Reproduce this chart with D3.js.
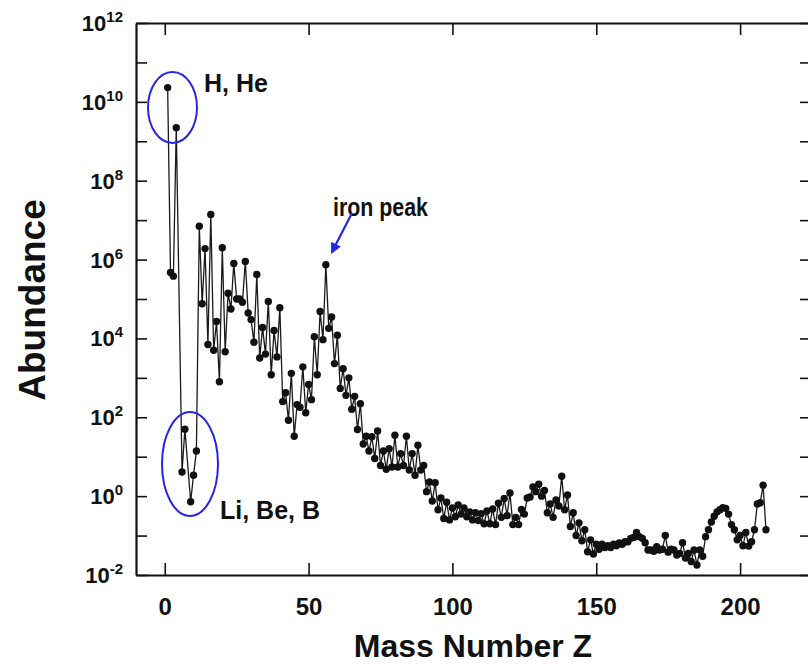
<!DOCTYPE html>
<html>
<head>
<meta charset="utf-8">
<script src="https://cdn.jsdelivr.net/npm/d3@7"></script>
<style>
  body { margin: 0; background: #fff; }
  svg text { font-family: "Liberation Sans", Arial, sans-serif; font-weight: bold; fill: #111; }
</style>
</head>
<body>
<svg id="chart" width="808" height="664"></svg>
<script>
// mass numbers (A = 5 and 8 have no stable nuclei)
const massNumber = [
  1, 2, 3, 4, 6, 7, 9, 10, 11, 12, 13, 14, 15, 16, 17, 18, 19, 20,
  21, 22, 23, 24, 25, 26, 27, 28, 29, 30, 31, 32, 33, 34, 35, 36, 37, 38, 39, 40,
  41, 42, 43, 44, 45, 46, 47, 48, 49, 50, 51, 52, 53, 54, 55, 56, 57, 58, 59, 60,
  61, 62, 63, 64, 65, 66, 67, 68, 69, 70, 71, 72, 73, 74, 75, 76, 77, 78, 79, 80,
  81, 82, 83, 84, 85, 86, 87, 88, 89, 90, 91, 92, 93, 94, 95, 96, 97, 98, 99, 100,
  101, 102, 103, 104, 105, 106, 107, 108, 109, 110, 111, 112, 113, 114, 115, 116, 117, 118, 119, 120,
  121, 122, 123, 124, 125, 126, 127, 128, 129, 130, 131, 132, 133, 134, 135, 136, 137, 138, 139, 140,
  141, 142, 143, 144, 145, 146, 147, 148, 149, 150, 151, 152, 153, 154, 155, 156, 157, 158, 159, 160,
  161, 162, 163, 164, 165, 166, 167, 168, 169, 170, 171, 172, 173, 174, 175, 176, 177, 178, 179, 180,
  181, 182, 183, 184, 185, 186, 187, 188, 189, 190, 191, 192, 193, 194, 195, 196, 197, 198, 199, 200,
  201, 202, 203, 204, 205, 206, 207, 208, 209
];

const abundance = [
  2.3e10, 4.7e5, 3.8e5, 2.2e9, 4.1, 50, 0.72, 3.4, 14, 7e6, 7.6e4, 1.9e6, 7e3, 1.4e7, 5e3, 2.7e4, 800, 2e6,
  4.6e3, 1.4e5, 5.6e4, 8e5, 1e5, 1e5, 8.3e4, 9e5, 4.4e4, 3e4, 8e3, 4.2e5, 3.2e3, 1.9e4, 4e3, 8.7e4, 1.2e3, 1.6e4, 3.4e3, 6e4,
  250, 420, 84, 1.3e3, 33, 210, 180, 1.9e3, 130, 680, 280, 1.1e4, 1.2e3, 4.8e4, 9.3e3, 7.4e5, 1.8e4, 3.5e4, 2.3e3, 1.2e4,
  540, 1.7e3, 360, 1e3, 160, 340, 49, 220, 21, 33, 14, 32, 9, 45, 6, 14, 4.8, 16, 5.5, 35,
  5.5, 12, 6, 33, 4.6, 12, 3.4, 19.5, 4.6, 6, 1.3, 2.3, 0.75, 2.2, 0.45, 0.9, 0.27, 0.7, 0.25, 0.5,
  0.3, 0.6, 0.35, 0.5, 0.3, 0.4, 0.25, 0.38, 0.24, 0.36, 0.2, 0.42, 0.2, 0.47, 0.19, 0.66, 0.29, 0.87, 0.32, 1.2,
  0.19, 0.29, 0.19, 0.46, 0.35, 0.9, 0.95, 1.7, 1.3, 2.0, 1.0, 1.4, 0.38, 0.63, 0.29, 0.8, 0.56, 3.2, 0.45, 1.07,
  0.17, 0.38, 0.1, 0.21, 0.074, 0.14, 0.039, 0.078, 0.034, 0.06, 0.045, 0.06, 0.05, 0.055, 0.05, 0.06, 0.055, 0.065, 0.06, 0.07,
  0.07, 0.085, 0.09, 0.12, 0.094, 0.085, 0.066, 0.043, 0.043, 0.04, 0.052, 0.043, 0.045, 0.1, 0.038, 0.045, 0.043, 0.032, 0.035, 0.066,
  0.027, 0.035, 0.022, 0.043, 0.018, 0.043, 0.03, 0.094, 0.14, 0.22, 0.31, 0.4, 0.45, 0.51, 0.49, 0.35, 0.19, 0.14, 0.078, 0.1,
  0.055, 0.12, 0.054, 0.07, 0.14, 0.63, 0.68, 1.9, 0.14
];

const xTicks = [0, 50, 100, 150, 200];
const yExponents = d3.range(-2, 13);
const yLabelExponents = [-2, 0, 2, 4, 6, 8, 10, 12];

const data = massNumber.map((a, i) => ({ a, v: abundance[i] }));

const svg = d3.select("#chart");
const plotLeft = 136, plotRight = 812, plotTop = 23, plotBottom = 575;

const x = d3.scaleLinear().domain([-10, 225]).range([plotLeft, plotRight]);
const y = d3.scaleLog().domain([1e-2, 1e12]).range([plotBottom, plotTop]);

// axes, ticks pointing inward
const axisStyle = g => {
  g.select(".domain").attr("stroke", "#111").attr("stroke-width", 2.2);
  g.selectAll(".tick line").attr("stroke", "#111").attr("stroke-width", 1.6);
};

svg.append("g")
  .attr("transform", `translate(0,${plotBottom})`)
  .call(d3.axisBottom(x).tickValues(xTicks).tickSize(-12).tickSizeOuter(0).tickPadding(23))
  .call(axisStyle)
  .call(g => g.selectAll(".tick text")
    .attr("font-size", 24)
    .attr("font-family", "Liberation Sans, Arial, sans-serif")
    .attr("font-weight", "bold")
    .attr("fill", "#111"));

svg.append("g")
  .attr("transform", `translate(0,${plotTop})`)
  .call(d3.axisTop(x).tickValues(xTicks).tickSize(-12).tickSizeOuter(0).tickFormat(""))
  .call(axisStyle);

svg.append("g")
  .attr("transform", `translate(${plotLeft},0)`)
  .call(d3.axisLeft(y).tickValues(yExponents.map(e => Math.pow(10, e))).tickSize(-11).tickSizeOuter(0).tickFormat(""))
  .call(axisStyle);

svg.append("g")
  .attr("transform", `translate(${plotRight},0)`)
  .call(d3.axisRight(y).tickValues(yExponents.map(e => Math.pow(10, e))).tickSize(-12).tickSizeOuter(0).tickFormat(""))
  .call(axisStyle);

// y tick labels as 10 with superscript exponent
const yLabels = svg.append("g").selectAll("text")
  .data(yLabelExponents)
  .join("text")
  .attr("x", 123)
  .attr("y", e => y(Math.pow(10, e)) + 8)
  .attr("text-anchor", "end");
yLabels.append("tspan").attr("font-size", 22).text("10");
yLabels.append("tspan").attr("font-size", 15).attr("dy", -9).text(e => e);

// data line and points
const line = d3.line().x(d => x(d.a)).y(d => y(d.v));
svg.append("path")
  .datum(data)
  .attr("fill", "none")
  .attr("stroke", "#1a1a1a")
  .attr("stroke-width", 1.3)
  .attr("d", line);

svg.append("g").selectAll("circle")
  .data(data)
  .join("circle")
  .attr("cx", d => x(d.a))
  .attr("cy", d => y(d.v))
  .attr("r", 3.7)
  .attr("fill", "#111");

// annotations
const blue = "#2626e8";
svg.append("ellipse")
  .attr("cx", 172.5).attr("cy", 107.5).attr("rx", 24.5).attr("ry", 35.5)
  .attr("fill", "none").attr("stroke", blue).attr("stroke-width", 2);
svg.append("ellipse")
  .attr("cx", 190).attr("cy", 464).attr("rx", 28).attr("ry", 52)
  .attr("fill", "none").attr("stroke", blue).attr("stroke-width", 2);

svg.append("text").attr("x", 204).attr("y", 92).attr("font-size", 25).text("H, He");
svg.append("text").attr("x", 220).attr("y", 519).attr("font-size", 25).text("Li, Be, B");
svg.append("text").attr("x", 333).attr("y", 216).attr("font-size", 26)
  .attr("textLength", 95).attr("lengthAdjust", "spacingAndGlyphs")
  .text("iron peak");

svg.append("defs").append("marker")
  .attr("id", "arrow")
  .attr("viewBox", "0 0 10 10")
  .attr("refX", 8).attr("refY", 5)
  .attr("markerWidth", 5).attr("markerHeight", 5)
  .attr("orient", "auto")
  .append("path").attr("d", "M0,0L10,5L0,10z").attr("fill", blue);

svg.append("line")
  .attr("x1", 352).attr("y1", 213).attr("x2", 332).attr("y2", 252)
  .attr("stroke", blue).attr("stroke-width", 2.2)
  .attr("marker-end", "url(#arrow)");

// axis titles
svg.append("text")
  .attr("transform", "translate(45,300) rotate(-90)")
  .attr("text-anchor", "middle")
  .attr("font-size", 37)
  .text("Abundance");

svg.append("text")
  .attr("x", 473).attr("y", 657)
  .attr("text-anchor", "middle")
  .attr("font-size", 32)
  .text("Mass Number Z");
</script>
</body>
</html>
